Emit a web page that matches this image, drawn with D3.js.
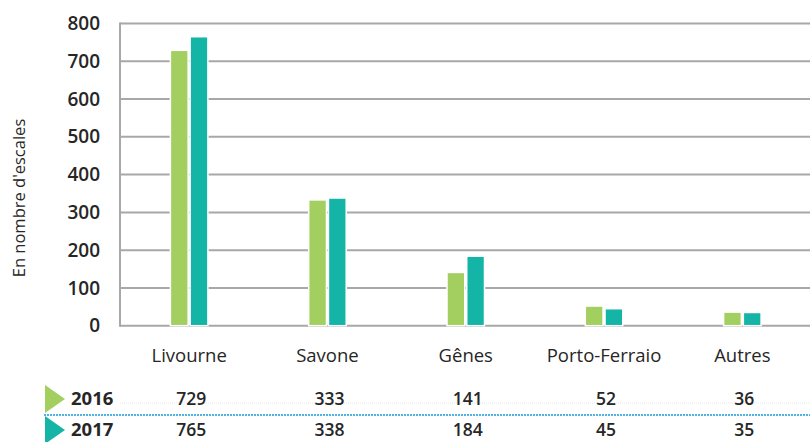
<!DOCTYPE html>
<html>
<head>
<meta charset="utf-8">
<script src="https://cdn.jsdelivr.net/npm/d3@7"></script>
<style>
  body { margin: 0; background: #fff; }
  svg { display: block; font-family: "Open Sans", sans-serif; }
</style>
</head>
<body>
<div id="chart"></div>
<script>
const categories = ["Livourne", "Savone", "Gênes", "Porto-Ferraio", "Autres"];
const years = ["2016", "2017"];
const values2016 = [729, 333, 141, 52, 36];
const values2017 = [765, 338, 184, 45, 35];
const yTicks = [0, 100, 200, 300, 400, 500, 600, 700, 800];
const colors = { "2016": "#a2cf5f", "2017": "#14b5a7" };

const width = 810, height = 442;
const svg = d3.select("#chart").append("svg")
  .attr("width", width).attr("height", height);

const x = d3.scaleBand().domain(categories).range([120, 811.5]).padding(0);
const x1 = d3.scaleBand().domain(years).range([0, 37.5]).paddingInner(0.1);
const y = d3.scaleLinear().domain([0, 800]).range([325.7, 23.5]);

// gridlines
svg.append("g")
  .selectAll("line")
  .data(yTicks)
  .join("line")
  .attr("x1", 120).attr("x2", width)
  .attr("y1", d => y(d)).attr("y2", d => y(d))
  .attr("stroke", "#a9a7a8").attr("stroke-width", 2);

// y axis line
svg.append("line")
  .attr("x1", 120).attr("x2", 120)
  .attr("y1", y(800) - 1).attr("y2", y(0) + 1)
  .attr("stroke", "#a9a7a8").attr("stroke-width", 2);

// tick labels
svg.append("g")
  .selectAll("text")
  .data(yTicks)
  .join("text")
  .attr("x", 100).attr("y", d => y(d))
  .attr("dy", "0.35em")
  .attr("text-anchor", "end")
  .attr("font-size", 19).attr("font-weight", 600)
  .attr("fill", "#262626")
  .text(d => d);

// axis title
svg.append("text")
  .attr("transform", "translate(19,198) rotate(-90)")
  .attr("dy", "0.35em")
  .attr("text-anchor", "middle")
  .attr("font-size", 16.5).attr("font-weight", 500)
  .attr("fill", "#262626")
  .text("En nombre d'escales");

// bars
const series = { "2016": values2016, "2017": values2017 };
const groups = svg.append("g")
  .selectAll("g")
  .data(categories)
  .join("g")
  .attr("transform", d => `translate(${x(d) + x.bandwidth() / 2 - 18.75},0)`);

groups.selectAll("rect")
  .data((c, i) => years.map(yr => ({ year: yr, value: series[yr][i] })))
  .join("rect")
  .attr("x", d => x1(d.year))
  .attr("width", x1.bandwidth())
  .attr("y", d => y(d.value))
  .attr("height", d => y(0) - y(d.value))
  .attr("fill", d => colors[d.year])
  .attr("stroke", "#fff").attr("stroke-width", 1.5);

// category labels
svg.append("g")
  .selectAll("text")
  .data(categories)
  .join("text")
  .attr("x", d => x(d) + x.bandwidth() / 2)
  .attr("y", 356)
  .attr("dy", "0.35em")
  .attr("text-anchor", "middle")
  .attr("font-size", 18.5).attr("font-weight", 500)
  .attr("fill", "#262626")
  .text(d => d);

// table lines
svg.append("line")
  .attr("x1", 120).attr("x2", width).attr("y1", 403).attr("y2", 403)
  .attr("stroke", "#e6e6e6").attr("stroke-width", 1)
  .attr("stroke-dasharray", "1,1");
svg.append("line")
  .attr("x1", 44).attr("x2", width).attr("y1", 415).attr("y2", 415)
  .attr("stroke", "#4fb3e6").attr("stroke-width", 2)
  .attr("stroke-dasharray", "2,1");

// table rows
const rowY = { "2016": 399, "2017": 430 };
const rows = svg.append("g")
  .selectAll("g")
  .data(years)
  .join("g");

rows.append("path")
  .attr("d", d => `M45,${rowY[d] - 14} L65,${rowY[d]} L45,${rowY[d] + 14} Z`)
  .attr("fill", d => colors[d]);

rows.append("text")
  .attr("x", 71).attr("y", d => rowY[d])
  .attr("dy", "0.35em")
  .attr("font-size", 18.5).attr("font-weight", 700)
  .attr("fill", "#262626")
  .text(d => d);

rows.selectAll("text.val")
  .data(d => series[d].map((v, i) => ({ v, c: categories[i], yr: d })))
  .join("text")
  .attr("class", "val")
  .attr("x", d => x(d.c) + x.bandwidth() / 2 + 2)
  .attr("y", d => rowY[d.yr])
  .attr("dy", "0.35em")
  .attr("text-anchor", "middle")
  .attr("font-size", 17.5).attr("font-weight", 600)
  .attr("fill", "#262626")
  .text(d => d.v);
</script>
</body>
</html>
